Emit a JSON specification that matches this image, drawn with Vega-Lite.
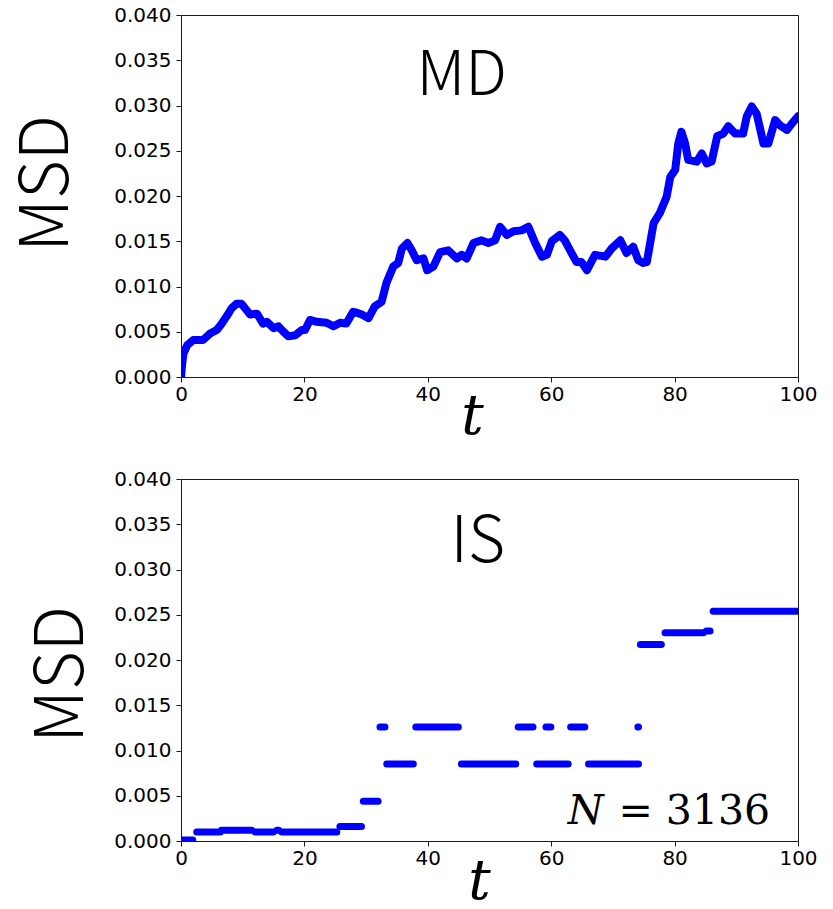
{
  "$schema": "https://vega.github.io/schema/vega-lite/v6.json",
  "autosize": {"type": "none"},
  "padding": {"left": 181, "top": 15, "right": 35, "bottom": 894},
  "bounds": "flush",
  "spacing": 102,
  "background": "white",
  "config": {
    "view": {"stroke": "#1a1a1a", "strokeWidth": 1},
    "axis": {
      "grid": false,
      "domain": false,
      "ticks": true,
      "tickSize": 5,
      "tickColor": "#1a1a1a",
      "labelFont": "DejaVu Sans",
      "labelFontSize": 20,
      "labelColor": "#000000",
      "labelFlush": false,
      "labelOverlap": false,
      "titleColor": "#000000"
    }
  },
  "datasets": {
    "md": [
      {"t": 0, "msd": 0}, {"t": 0.2, "msd": 0.0015}, {"t": 0.4, "msd": 0.0026}, {"t": 1.0, "msd": 0.0035},
      {"t": 2.0, "msd": 0.0041}, {"t": 3.6, "msd": 0.0041}, {"t": 4.7, "msd": 0.0048}, {"t": 5.8, "msd": 0.0052},
      {"t": 6.5, "msd": 0.0058}, {"t": 7.4, "msd": 0.0067}, {"t": 8.2, "msd": 0.0076}, {"t": 9.0, "msd": 0.0081},
      {"t": 9.8, "msd": 0.0081}, {"t": 10.5, "msd": 0.0075}, {"t": 11.2, "msd": 0.0069}, {"t": 12.3, "msd": 0.0070},
      {"t": 13.3, "msd": 0.0059}, {"t": 13.9, "msd": 0.0061}, {"t": 15.0, "msd": 0.0054}, {"t": 15.8, "msd": 0.0056},
      {"t": 16.6, "msd": 0.0050}, {"t": 17.4, "msd": 0.0045}, {"t": 18.5, "msd": 0.0046}, {"t": 19.6, "msd": 0.0052},
      {"t": 20.1, "msd": 0.0052}, {"t": 20.9, "msd": 0.0063}, {"t": 22.0, "msd": 0.0061}, {"t": 23.6, "msd": 0.0060},
      {"t": 24.7, "msd": 0.0056}, {"t": 25.8, "msd": 0.0060}, {"t": 26.8, "msd": 0.0059}, {"t": 27.9, "msd": 0.0072},
      {"t": 28.5, "msd": 0.0071}, {"t": 29.3, "msd": 0.0069}, {"t": 30.4, "msd": 0.0065}, {"t": 31.4, "msd": 0.0078},
      {"t": 32.5, "msd": 0.0083}, {"t": 33.3, "msd": 0.0104}, {"t": 34.4, "msd": 0.0122}, {"t": 35.2, "msd": 0.0126},
      {"t": 35.8, "msd": 0.0142}, {"t": 36.7, "msd": 0.0148}, {"t": 37.4, "msd": 0.0140}, {"t": 38.2, "msd": 0.0129},
      {"t": 39.3, "msd": 0.0131}, {"t": 39.9, "msd": 0.0118}, {"t": 40.9, "msd": 0.0122}, {"t": 42.0, "msd": 0.0138},
      {"t": 43.3, "msd": 0.0140}, {"t": 44.7, "msd": 0.0131}, {"t": 45.5, "msd": 0.0135}, {"t": 46.3, "msd": 0.0131},
      {"t": 47.4, "msd": 0.0148}, {"t": 48.7, "msd": 0.0151}, {"t": 49.8, "msd": 0.0148}, {"t": 50.9, "msd": 0.0151},
      {"t": 51.7, "msd": 0.0166}, {"t": 52.8, "msd": 0.0157}, {"t": 53.9, "msd": 0.0161}, {"t": 55.2, "msd": 0.0162},
      {"t": 56.3, "msd": 0.0166}, {"t": 57.4, "msd": 0.0148}, {"t": 58.5, "msd": 0.0133}, {"t": 59.3, "msd": 0.0135},
      {"t": 60.1, "msd": 0.0150}, {"t": 61.4, "msd": 0.0157}, {"t": 62.2, "msd": 0.0151}, {"t": 63.3, "msd": 0.0137},
      {"t": 64.1, "msd": 0.0127}, {"t": 64.9, "msd": 0.0127}, {"t": 65.8, "msd": 0.0118}, {"t": 67.1, "msd": 0.0135},
      {"t": 68.8, "msd": 0.0133}, {"t": 69.8, "msd": 0.0142}, {"t": 71.2, "msd": 0.0151}, {"t": 72.2, "msd": 0.0137},
      {"t": 73.3, "msd": 0.0144}, {"t": 74.1, "msd": 0.0129}, {"t": 74.9, "msd": 0.0126}, {"t": 75.5, "msd": 0.0127},
      {"t": 76.6, "msd": 0.0170}, {"t": 77.6, "msd": 0.0181}, {"t": 78.7, "msd": 0.0199}, {"t": 79.3, "msd": 0.0221},
      {"t": 80.1, "msd": 0.0229}, {"t": 80.6, "msd": 0.0258}, {"t": 81.1, "msd": 0.0271}, {"t": 81.7, "msd": 0.0258},
      {"t": 82.2, "msd": 0.0240}, {"t": 83.6, "msd": 0.0238}, {"t": 84.4, "msd": 0.0247}, {"t": 85.2, "msd": 0.0236},
      {"t": 86.0, "msd": 0.0238}, {"t": 86.9, "msd": 0.0266}, {"t": 87.9, "msd": 0.0269}, {"t": 88.7, "msd": 0.0277},
      {"t": 89.8, "msd": 0.0269}, {"t": 91.1, "msd": 0.0269}, {"t": 91.7, "msd": 0.0288}, {"t": 92.5, "msd": 0.0299},
      {"t": 93.3, "msd": 0.0291}, {"t": 94.4, "msd": 0.0258}, {"t": 95.2, "msd": 0.0258}, {"t": 96.3, "msd": 0.0284},
      {"t": 97.1, "msd": 0.0278}, {"t": 98.2, "msd": 0.0273}, {"t": 99.0, "msd": 0.0280}, {"t": 100, "msd": 0.0288}
    ],
    "is": [
      {"t0": 0, "t1": 1.9, "msd": 0.0001},
      {"t0": 2.55, "t1": 6.35, "msd": 0.0010},
      {"t0": 6.55, "t1": 11.45, "msd": 0.0012},
      {"t0": 12.05, "t1": 14.95, "msd": 0.0010},
      {"t0": 15.55, "t1": 15.85, "msd": 0.0012},
      {"t0": 16.35, "t1": 25.25, "msd": 0.0010},
      {"t0": 25.75, "t1": 29.25, "msd": 0.0016},
      {"t0": 29.55, "t1": 31.95, "msd": 0.0044},
      {"t0": 32.25, "t1": 33.05, "msd": 0.0126},
      {"t0": 33.35, "t1": 37.65, "msd": 0.0085},
      {"t0": 38.05, "t1": 44.95, "msd": 0.0126},
      {"t0": 45.45, "t1": 54.25, "msd": 0.0085},
      {"t0": 54.65, "t1": 57.05, "msd": 0.0126},
      {"t0": 57.65, "t1": 62.75, "msd": 0.0085},
      {"t0": 59.15, "t1": 59.95, "msd": 0.0126},
      {"t0": 63.15, "t1": 65.45, "msd": 0.0126},
      {"t0": 66.05, "t1": 74.15, "msd": 0.0085},
      {"t0": 74.05, "t1": 74.15, "msd": 0.0126},
      {"t0": 74.45, "t1": 77.85, "msd": 0.0217},
      {"t0": 78.45, "t1": 84.65, "msd": 0.0230},
      {"t0": 85.15, "t1": 85.75, "msd": 0.0232},
      {"t0": 86.25, "t1": 100, "msd": 0.0254}
    ]
  },
  "vconcat": [
    {
      "width": 617,
      "height": 362,
      "layer": [
        {
          "data": {"name": "md"},
          "mark": {"type": "line", "color": "#0000ff", "strokeWidth": 8, "strokeCap": "round", "strokeJoin": "round", "clip": true},
          "encoding": {
            "x": {"field": "t", "type": "quantitative",
              "scale": {"domain": [0, 100], "nice": false, "zero": false},
              "axis": {"values": [0, 20, 40, 60, 80, 100], "labelPadding": 2, "title": "t",
                "titleFont": "DejaVu Serif", "titleFontStyle": "italic", "titleFontWeight": "normal", "titleFontSize": 56,
                "titleAlign": "center", "titleBaseline": "alphabetic", "titleX": 291, "titleY": 56}},
            "y": {"field": "msd", "type": "quantitative",
              "scale": {"domain": [0, 0.04], "nice": false},
              "axis": {"values": [0, 0.005, 0.01, 0.015, 0.02, 0.025, 0.03, 0.035, 0.04], "format": ".3f", "labelPadding": 5,
                "title": "MSD", "titleFont": "Noto Sans CJK JP", "titleFontWeight": 300, "titleFontSize": 67,
                "titleAngle": 270, "titleAlign": "center", "titleBaseline": "alphabetic", "titleX": -114, "titleY": 168}}
          }
        },
        {
          "data": {"values": [{"label": "MD", "t": 45.5, "msd": 0.0312}]},
          "mark": {"type": "text", "font": "Noto Sans CJK JP", "fontWeight": 300, "fontSize": 62, "align": "center", "baseline": "alphabetic", "color": "#000000"},
          "encoding": {
            "x": {"field": "t", "type": "quantitative"},
            "y": {"field": "msd", "type": "quantitative"},
            "text": {"field": "label"}
          }
        }
      ]
    },
    {
      "width": 617,
      "height": 362,
      "layer": [
        {
          "data": {"name": "is"},
          "mark": {"type": "rule", "color": "#0000ff", "strokeWidth": 7, "strokeCap": "round", "clip": true},
          "encoding": {
            "x": {"field": "t0", "type": "quantitative",
              "scale": {"domain": [0, 100], "nice": false, "zero": false},
              "axis": {"values": [0, 20, 40, 60, 80, 100], "labelPadding": 2, "title": "t",
                "titleFont": "DejaVu Serif", "titleFontStyle": "italic", "titleFontWeight": "normal", "titleFontSize": 56,
                "titleAlign": "center", "titleBaseline": "alphabetic", "titleX": 298, "titleY": 57}},
            "x2": {"field": "t1"},
            "y": {"field": "msd", "type": "quantitative",
              "scale": {"domain": [0, 0.04], "nice": false},
              "axis": {"values": [0, 0.005, 0.01, 0.015, 0.02, 0.025, 0.03, 0.035, 0.04], "format": ".3f", "labelPadding": 5,
                "title": "MSD", "titleFont": "Noto Sans CJK JP", "titleFontWeight": 300, "titleFontSize": 67,
                "titleAngle": 270, "titleAlign": "center", "titleBaseline": "alphabetic", "titleX": -99, "titleY": 195}}
          }
        },
        {
          "data": {"values": [{"label": "IS", "t": 48.1, "msd": 0.0308}]},
          "mark": {"type": "text", "font": "Noto Sans CJK JP", "fontWeight": 300, "fontSize": 64, "align": "center", "baseline": "alphabetic", "color": "#000000"},
          "encoding": {
            "x": {"field": "t", "type": "quantitative"},
            "y": {"field": "msd", "type": "quantitative"},
            "text": {"field": "label"}
          }
        },
        {
          "data": {"values": [{"label": "N", "t": 62.7, "msd": 0.0019}]},
          "mark": {"type": "text", "font": "DejaVu Serif", "fontStyle": "italic", "fontSize": 41, "align": "left", "baseline": "alphabetic", "color": "#000000"},
          "encoding": {
            "x": {"field": "t", "type": "quantitative"},
            "y": {"field": "msd", "type": "quantitative"},
            "text": {"field": "label"}
          }
        },
        {
          "data": {"values": [{"label": "= 3136", "t": 70.9, "msd": 0.0019}]},
          "mark": {"type": "text", "font": "DejaVu Serif", "fontSize": 41, "align": "left", "baseline": "alphabetic", "color": "#000000"},
          "encoding": {
            "x": {"field": "t", "type": "quantitative"},
            "y": {"field": "msd", "type": "quantitative"},
            "text": {"field": "label"}
          }
        }
      ]
    }
  ]
}
